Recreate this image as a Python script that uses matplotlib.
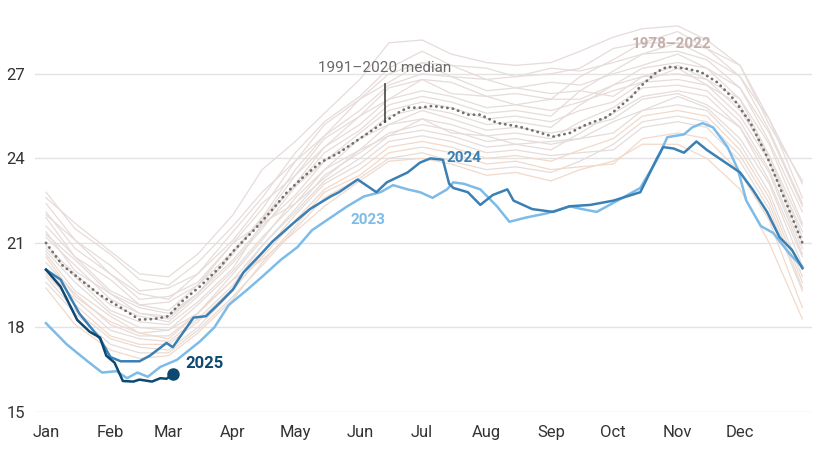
import matplotlib
matplotlib.use('Agg')
import matplotlib.pyplot as plt

plt.rcParams['font.family'] = ['Roboto', 'DejaVu Sans']

# day of year for the background years (1978-2022), sampled twice a month
bg_days = [1, 15, 32, 46, 60, 74, 91, 105, 121, 135, 152, 166, 182, 196, 213, 227, 244, 258, 274, 288, 305, 319, 335, 349, 365]

# extent in million km2, one list per background year
bg_years = [
    [22.8, 21.5, 20.6, 19.7, 19.5, 20.3, 21.6, 22.8, 23.9, 25.2, 26.1, 27.0, 27.4, 27.3, 26.8, 26.9, 27.0, 27.2, 27.9, 28.1, 28.5, 27.9, 27.3, 25.4, 23.1],
    [22.4, 21.1, 20.2, 19.3, 19.4, 19.9, 21.4, 22.6, 24.2, 25.3, 26.2, 27.2, 27.8, 27.3, 27.2, 26.9, 27.2, 27.1, 27.4, 27.7, 28.1, 27.6, 26.9, 25.0, 22.4],
    [22.0, 21.1, 19.9, 19.2, 19.0, 19.9, 21.1, 22.4, 23.4, 24.7, 25.5, 26.5, 26.8, 26.7, 26.2, 26.3, 26.1, 26.9, 27.5, 28.1, 28.1, 27.9, 26.9, 25.4, 22.6],
    [21.9, 20.5, 19.7, 18.8, 18.9, 19.5, 21.0, 22.2, 23.9, 24.8, 26.1, 26.7, 27.4, 26.9, 26.8, 26.5, 26.7, 26.6, 27.0, 27.3, 27.7, 27.2, 26.5, 24.6, 22.1],
    [21.6, 20.5, 19.3, 18.8, 18.6, 19.5, 20.7, 21.9, 23.0, 24.2, 25.0, 25.9, 26.2, 26.0, 25.6, 25.7, 25.5, 26.4, 27.1, 27.7, 27.8, 27.5, 26.5, 24.9, 22.3],
    [21.3, 20.4, 19.2, 18.7, 18.5, 19.2, 20.7, 21.8, 23.4, 24.4, 25.5, 26.1, 26.8, 26.3, 26.2, 25.9, 26.1, 26.1, 26.6, 26.9, 27.3, 26.8, 26.1, 24.1, 21.6],
    [21.2, 20.2, 19.0, 18.5, 18.4, 19.2, 20.4, 21.6, 22.7, 23.9, 24.7, 25.5, 25.8, 25.6, 25.2, 25.3, 25.1, 25.9, 26.6, 27.2, 27.4, 27.2, 26.1, 24.5, 21.7],
    [20.9, 19.9, 18.8, 18.4, 18.2, 19.1, 20.3, 21.5, 23.0, 23.9, 24.9, 25.7, 26.0, 25.8, 25.4, 25.5, 25.3, 25.7, 26.0, 26.7, 26.8, 26.6, 25.5, 23.9, 21.0],
    [20.8, 19.8, 18.6, 18.2, 18.1, 18.9, 20.1, 21.7, 23.1, 24.4, 25.2, 26.1, 26.4, 26.2, 25.8, 25.9, 25.7, 26.0, 26.4, 26.7, 27.2, 26.6, 25.9, 23.9, 21.4],
    [20.7, 19.6, 18.5, 18.0, 17.9, 18.8, 20.0, 21.2, 22.4, 23.6, 24.3, 25.2, 25.4, 25.2, 24.8, 24.9, 24.7, 25.3, 25.8, 26.5, 26.6, 26.4, 25.3, 23.6, 20.8],
    [20.6, 19.3, 18.4, 17.8, 17.9, 18.5, 19.9, 21.1, 22.6, 23.6, 24.7, 25.2, 25.7, 25.4, 25.0, 25.1, 24.9, 25.1, 25.4, 26.1, 26.3, 25.9, 25.1, 23.2, 20.5],
    [20.3, 19.2, 18.1, 17.7, 17.7, 18.5, 19.7, 20.9, 22.1, 23.2, 24.0, 24.8, 25.0, 24.8, 24.4, 24.5, 24.3, 24.9, 25.6, 26.2, 26.4, 26.2, 25.1, 23.5, 20.6],
    [20.1, 19.0, 17.9, 17.6, 17.5, 18.3, 19.5, 20.9, 22.2, 23.4, 24.2, 24.9, 25.2, 25.0, 24.6, 24.7, 24.5, 24.7, 24.9, 25.7, 25.9, 25.7, 24.5, 22.8, 19.8],
    [19.9, 18.8, 17.7, 17.4, 17.4, 18.2, 19.4, 20.5, 21.8, 22.9, 23.6, 24.4, 24.6, 24.4, 24.0, 24.1, 23.9, 24.3, 24.7, 25.5, 25.7, 25.5, 24.3, 22.6, 19.6],
    [19.8, 18.6, 17.6, 17.3, 17.2, 18.0, 19.3, 20.6, 22.0, 23.1, 23.8, 24.6, 24.8, 24.6, 24.2, 24.3, 24.1, 24.2, 24.3, 25.1, 25.3, 25.1, 23.9, 22.2, 19.3],
    [19.6, 18.5, 17.4, 17.1, 17.1, 17.9, 19.1, 20.2, 21.5, 22.6, 23.3, 24.0, 24.2, 23.9, 23.6, 23.7, 23.5, 23.9, 24.5, 25.3, 25.5, 25.3, 24.1, 22.4, 19.4],
    [19.4, 18.1, 17.2, 16.9, 17.0, 17.8, 19.0, 20.3, 21.6, 22.8, 23.4, 24.2, 24.4, 24.2, 23.8, 23.9, 23.6, 23.7, 23.8, 24.7, 24.9, 24.7, 23.5, 21.8, 18.7],
    [20.5, 19.1, 18.2, 17.8, 17.6, 18.5, 19.7, 20.4, 21.4, 22.3, 23.2, 23.9, 24.0, 23.8, 23.4, 23.5, 23.2, 23.6, 23.9, 24.5, 24.5, 24.0, 22.9, 21.0, 18.3],
    [22.6, 21.7, 20.7, 19.9, 19.8, 20.6, 22.0, 23.6, 24.6, 25.6, 26.8, 28.1, 28.2, 27.7, 27.4, 27.3, 27.4, 27.8, 28.3, 28.6, 28.7, 28.2, 27.3, 25.2, 23.2],
    [21.4, 20.0, 19.2, 18.5, 18.3, 19.2, 20.6, 21.9, 23.6, 24.8, 25.7, 26.6, 27.0, 26.9, 26.4, 26.5, 26.3, 26.4, 26.2, 26.9, 27.0, 26.8, 25.7, 24.1, 21.2],
    [22.1, 20.8, 19.9, 19.0, 19.1, 19.6, 21.0, 21.7, 22.4, 23.3, 24.3, 24.8, 25.4, 24.9, 24.8, 24.5, 24.6, 24.7, 25.3, 25.7, 26.2, 25.8, 24.7, 23.1, 20.2],
]
# the more recent background years are drawn with a warmer tint
bg_recent = [13, 16, 17]

median_days = [1, 9, 21, 27, 36, 46, 53, 60, 66, 75, 85, 91, 101, 109, 117, 125, 133, 142, 152, 158, 164, 170, 175, 181,
               187, 197, 204, 210, 218, 229, 237, 245, 253, 261, 271, 277, 283, 287, 295, 300, 308, 316, 324, 332, 340, 348, 356, 365]
median_vals = [21.0, 20.2, 19.5, 19.15, 18.75, 18.28, 18.3, 18.4, 18.9, 19.45, 20.16, 20.7, 21.45, 22.1, 22.8, 23.35, 23.85, 24.2, 24.7, 25.0, 25.3, 25.6, 25.8, 25.8,
               25.86, 25.76, 25.55, 25.55, 25.26, 25.12, 24.95, 24.77, 24.9, 25.2, 25.47, 25.83, 26.2, 26.55, 27.07, 27.25, 27.2, 27.07, 26.7, 26.1, 25.26, 24.06, 22.64, 21.0]

days_2023 = [1, 11, 21, 28, 35, 40, 45, 50, 56, 64, 75, 82, 89, 98, 105, 114, 122, 129, 138, 146, 154, 162, 168, 175, 181, 187,
             194, 197, 202, 210, 218, 224, 232, 242, 253, 259, 266, 276, 287, 295, 300, 308, 312, 317, 322, 329, 334, 338, 345, 351, 359, 365]
vals_2023 = [18.15, 17.4, 16.8, 16.4, 16.45, 16.2, 16.4, 16.25, 16.6, 16.85, 17.5, 18.0, 18.8, 19.35, 19.8, 20.4, 20.85, 21.45, 21.9, 22.3, 22.65, 22.8, 23.05, 22.9, 22.8, 22.6,
             22.9, 23.15, 23.1, 22.9, 22.3, 21.75, 21.9, 22.05, 22.3, 22.2, 22.1, 22.5, 22.95, 23.95, 24.75, 24.85, 25.1, 25.25, 25.1, 24.4, 23.6, 22.5, 21.6, 21.35, 20.6, 20.15]

days_2024 = [1, 8, 17, 27, 32, 37, 46, 51, 59, 62, 72, 78, 85, 91, 96, 105, 110, 120, 128, 138, 142, 151, 160, 165, 175, 181,
             186, 192, 195, 197, 204, 210, 216, 223, 226, 235, 245, 253, 263, 274, 287, 295, 298, 303, 308, 314, 319, 327, 335, 341, 348, 354, 360, 365]
vals_2024 = [20.05, 19.7, 18.5, 17.6, 16.95, 16.8, 16.8, 17.0, 17.45, 17.3, 18.35, 18.4, 18.9, 19.35, 19.95, 20.65, 21.05, 21.7, 22.2, 22.65, 22.8, 23.25, 22.8, 23.15, 23.5, 23.85,
             24.0, 23.95, 23.1, 22.95, 22.8, 22.35, 22.7, 22.9, 22.5, 22.2, 22.1, 22.3, 22.35, 22.5, 22.8, 24.0, 24.4, 24.35, 24.2, 24.6, 24.3, 23.9, 23.5, 22.9, 22.1, 21.2, 20.75, 20.1]

days_2025 = [1, 8, 16, 22, 27, 30, 34, 38, 43, 46, 52, 56, 59, 62]
vals_2025 = [20.05, 19.45, 18.27, 17.85, 17.64, 17.0, 16.75, 16.1, 16.08, 16.15, 16.08, 16.2, 16.18, 16.35]

month_days = [1, 32, 60, 91, 121, 152, 182, 213, 244, 274, 305, 335]
month_labels = ['Jan', 'Feb', 'Mar', 'Apr', 'May', 'Jun', 'Jul', 'Aug', 'Sep', 'Oct', 'Nov', 'Dec']
y_ticks = [15, 18, 21, 24, 27]

c_bg = '#e6dcd9'
c_bg_recent = '#f2d9ca'
c_median = '#707070'
c_2023 = '#7dbbe8'
c_2024 = '#3b80b4'
c_2025 = '#0c4870'

fig = plt.figure(figsize=(8.25, 4.5), dpi=100)
ax = fig.add_axes([0.0424, 0.0844, 0.9418, 0.8956])

for i, vals in enumerate(bg_years):
    col = c_bg_recent if i in bg_recent else c_bg
    ax.plot(bg_days, vals, color=col, lw=0.9, zorder=1)

ax.plot(median_days, median_vals, color=c_median, lw=2.0,
        linestyle=(0, (0.1, 1.9)), dash_capstyle='round', zorder=3)
ax.plot(days_2023, vals_2023, color=c_2023, lw=1.8, zorder=4)
ax.plot(days_2024, vals_2024, color=c_2024, lw=1.8, zorder=5)
ax.plot(days_2025, vals_2025, color=c_2025, lw=1.8, zorder=6)
ax.plot(days_2025[-1], vals_2025[-1], 'o', color=c_2025, ms=8, zorder=7)

# labels on the chart
ax.text(days_2025[-1] + 6, 16.72, '2025', color=c_2025, fontsize=12, fontweight='bold',
        ha='left', va='center', zorder=8)
ax.text(202, 24.0, '2024', color=c_2024, fontsize=11, fontweight='bold', ha='center', va='center')
ax.text(156, 21.8, '2023', color=c_2023, fontsize=11, fontweight='bold', ha='center', va='center')
ax.text(302, 28.06, '1978\u20132022', color='#c4afab', fontsize=11, fontweight='bold', ha='center', va='center')
ax.text(164, 27.2, '1991\u20132020 median', color='#6a6a6a', fontsize=11, ha='center', va='center')
ax.plot([164, 164], [25.3, 26.65], color='#444444', lw=1.2, zorder=8)

ax.set_xlim(-4.3, 369.6)
ax.set_ylim(15, 29.3)
ax.set_xticks(month_days)
ax.set_xticklabels(month_labels)
ax.set_yticks(y_ticks)
ax.tick_params(axis='both', length=0, labelsize=12, colors='#333333')
ax.tick_params(axis='x', pad=9)
ax.tick_params(axis='y', pad=7)
ax.grid(axis='y', color='#e3e3e3', lw=1)
ax.set_axisbelow(True)
for s in ax.spines.values():
    s.set_visible(False)

fig.savefig('out.png', dpi=100)
